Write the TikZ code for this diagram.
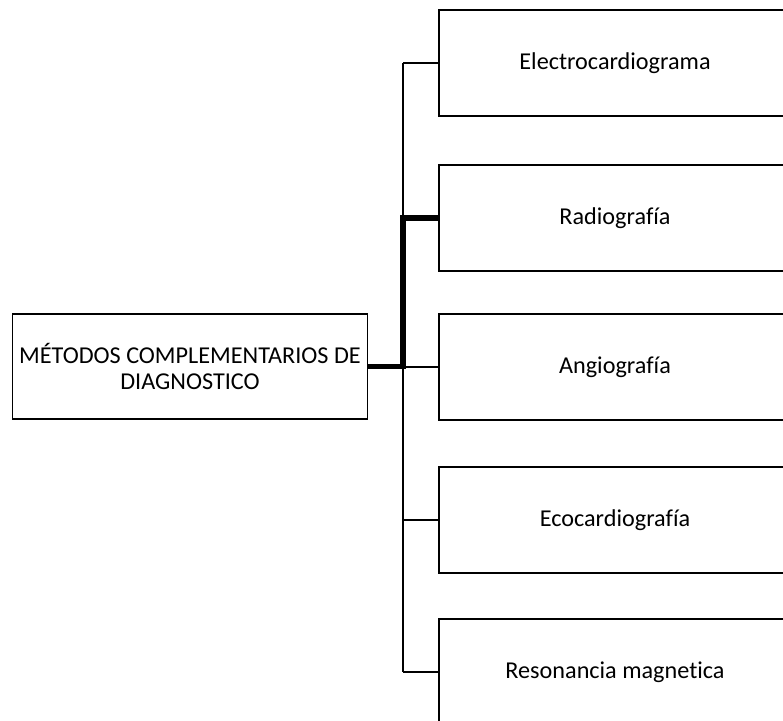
\documentclass[tikz,border=0pt]{standalone}
\usepackage{fontspec}
\setmainfont[Ligatures=NoCommon]{Carlito}
\usetikzlibrary{positioning,calc}

\tikzset{
    mainbox/.style={draw, line width=0.9pt, minimum width=177pt, minimum height=52.5pt, align=center, font=\fontsize{12.1}{13}\selectfont},
    itembox/.style={draw, line width=0.9pt, minimum width=176pt, minimum height=53pt, font=\fontsize{12.1}{13}\selectfont},
    thinline/.style={line width=0.6pt},
    boldline/.style={line width=2.6pt}
}

\begin{document}
\begin{tikzpicture}[x=0.5pt, y=-0.5pt]
    \useasboundingbox (0,0) rectangle (783,721);
    \clip (0,0) rectangle (783,721);

    % Main box
    \node [mainbox] (main) at (190,366.5) {MÉTODOS COMPLEMENTARIOS DE\\DIAGNOSTICO};

    % Spine
    \coordinate (spine) at (403,0);

    % Right side boxes
    \foreach \y/\name/\label in {63/ecg/Electrocardiograma, 218/rx/Radiografía, 367/angio/Angiografía, 520/eco/Ecocardiografía, 672/rm/Resonancia magnetica} {
        \node [itembox] (\name) at (615,\y) {\label};
        \draw [thinline] (\name.west) -- (\name.west -| spine);
    }

    \draw [thinline] (ecg.west -| spine) -- (rm.west -| spine);

    % Highlighted path
    \draw [boldline] (main.east) -- (main.east -| spine) |- (rx.west);
\end{tikzpicture}
\end{document}
